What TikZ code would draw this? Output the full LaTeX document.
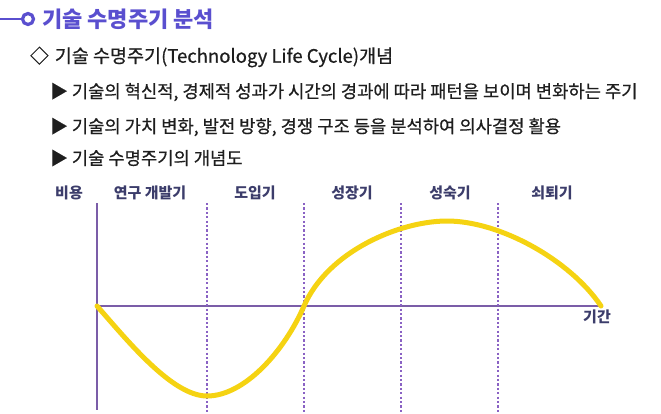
\documentclass[tikz,border=0pt]{standalone}
\usepackage{fontspec}
\setmainfont{Noto Sans CJK KR}
\newfontfamily\medfont{Noto Sans CJK KR}[FakeBold=0.6]
\definecolor{TLCviolet}{HTML}{5A4FCF}
\definecolor{TLCaxis}{HTML}{7B5DA8}
\definecolor{TLCdot}{HTML}{8A62C4}
\definecolor{TLCyellow}{HTML}{F5D312}
\definecolor{TLCnavy}{HTML}{3C3D6B}
\definecolor{TLCtext}{HTML}{1E1E1E}
\usetikzlibrary{positioning, calc}

\tikzset{
   stagelabel/.style={font=\fontsize{15}{17}\selectfont\bfseries, text=TLCnavy, inner sep=1pt},
   bulletline/.style={anchor=west, font=\fontsize{17.7}{20}\selectfont\medfont, text=TLCtext, inner sep=0pt},
   phaseline/.style={TLCdot, line width=1.6pt, dash pattern=on 2.2pt off 2.2pt}
}

\begin{document}
\begin{tikzpicture}[x=1pt, y=-1pt]
            \useasboundingbox (0,0) rectangle (661,413);
            % Title bar
            \coordinate (tstart) at (0,19);
            \node[circle, draw=TLCviolet, fill=white, line width=3.2pt, minimum size=11pt, inner sep=0pt] (tdot) at (28,19) {};
            \draw[TLCviolet, line width=2pt] (tstart) -- (tdot.west);
            \node[anchor=west, inner sep=0pt, text=TLCviolet,
               font=\fontsize{22}{26}\selectfont\bfseries] (title) at (42,19) {기술 수명주기 분석};
            % Heading and bullets
            \node[bulletline, font=\fontsize{18.5}{22}\selectfont\medfont] (heading) at (30,57) {◇\hspace{2pt} 기술 수명주기(Technology Life Cycle)개념};
            \node[bulletline] (b1) at (50,92) {▶ 기술의 혁신적, 경제적 성과가 시간의 경과에 따라 패턴을 보이며 변화하는 주기};
            \node[bulletline] (b2) at (50,127) {▶ 기술의 가치 변화, 발전 방향, 경쟁 구조 등을 분석하여 의사결정 활용};
            \node[bulletline] (b3) at (50,158) {▶ 기술 수명주기의 개념도};
            % Stage labels
            \node[stagelabel] (cost) at (69,193) {비용};
            \node[stagelabel] (rnd) at (150,193) {연구 개발기};
            \node[stagelabel] (intro) at (255,193) {도입기};
            \node[stagelabel] (growth) at (352,193) {성장기};
            \node[stagelabel] (mature) at (450,193) {성숙기};
            \node[stagelabel] (decline) at (552,193) {쇠퇴기};
            % Axes
            \coordinate (origin) at (97,306);
            \coordinate (ytop) at (97,203);
            \coordinate (ybot) at (97,410);
            \coordinate (xend) at (602,306);
            \draw[TLCaxis, line width=2pt] (ytop) -- (ybot);
            \draw[TLCaxis, line width=2pt] (origin) -- (xend);
            \node[stagelabel, below=3pt of xend, xshift=-5pt] (period) {기간};
            % Phase boundaries (dotted)
            \foreach \px in {207,304,401,498}
               \draw[phaseline] (\px,203) -- (\px,413);
            % Life-cycle curve: cost dip, then revenue hump
            \coordinate (trough) at (207,396);
            \coordinate (cross) at (304,306);
            \coordinate (peak) at (447,221);
            \coordinate (tend) at (601,306);
            \draw[TLCyellow, line width=5pt, line cap=round]
               (origin) .. controls (127,340) and (172,396) .. (trough)
               .. controls (245,396) and (285,350) .. (cross)
               .. controls (328,251) and (400,221) .. (peak)
               .. controls (500,221) and (570,260) .. (tend);
         \end{tikzpicture}
\end{document}
